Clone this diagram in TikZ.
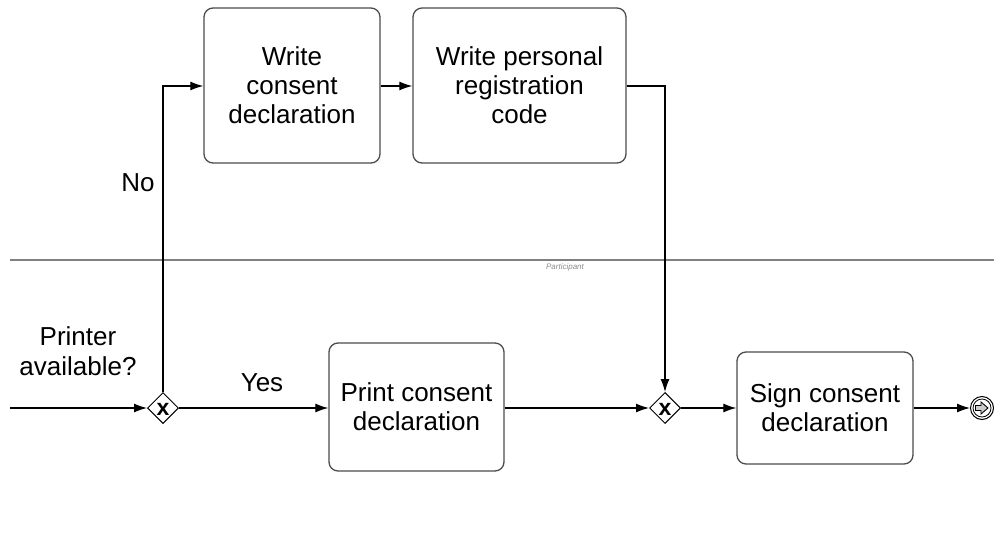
\documentclass[tikz,border=0pt]{standalone}
\usepackage{fontspec}
\setmainfont{Liberation Sans}
\usetikzlibrary{arrows.meta,shapes.geometric}
\tikzset{
  task/.style={draw=black!70, line width=1.3pt, rounded corners=9pt, inner sep=0pt,
    align=center, font=\fontsize{26}{29}\selectfont},
  gate/.style={draw=black, line width=1pt, diamond, minimum width=31pt, minimum height=31pt,
    inner sep=0pt, fill=white},
  flow/.style={draw=black, line width=1.2pt, -{Latex[length=13pt,width=9pt]}},
  lbl/.style={align=center, font=\fontsize{26}{30}\selectfont},
}
\begin{document}
\begin{tikzpicture}[x=1pt,y=-1pt]
\useasboundingbox (0,0) rectangle (994,544);

% lane separator and participant caption
\draw[black!50, line width=1.5pt] (10,260) -- (994,260);
\node[font=\fontsize{8}{9}\selectfont\itshape, text=black!45] (part) at (565,267) {Participant};

% tasks
\node[task, minimum width=176pt, minimum height=155pt] (write) at (292,85.5) {Write\\consent\\declaration};
\node[task, minimum width=213pt, minimum height=155pt] (code) at (519.5,85.5) {Write personal\\registration\\code};
\node[task, minimum width=175pt, minimum height=128pt] (print) at (416.5,407) {Print consent\\declaration};
\node[task, minimum width=176pt, minimum height=112pt] (sign) at (825,408) {Sign consent\\declaration};

% gateways
\node[gate] (g1) at (163,408) {};
\node[gate] (g2) at (665,408) {};
\foreach \g in {g1,g2}{
  \node[font=\fontsize{23}{23}\selectfont\bfseries, inner sep=0pt] at ([yshift=-1pt]\g) {x};
}

% end event with throw arrow marker
\node[circle, draw=black, line width=1pt, minimum size=23pt, inner sep=0pt] (end) at (982,408) {};
\draw[black, line width=0.8pt] (end) circle (9pt);
\draw[black, line width=0.9pt, fill=black!20]
  (975.5,405.5) -- (981,405.5) -- (981,402) -- (988,408) -- (981,414) -- (981,410.5) -- (975.5,410.5) -- cycle;

% incoming flow
\coordinate (start) at (10,408);
\draw[flow] (start) -- (g1);

% flows
\draw[flow] (g1.north) |- (write.west |- 0,86);
\draw[flow] (write.east |- 0,86) -- (code.west |- 0,86);
\draw[flow] (code.east |- 0,86) -| (g2.north);
\draw[flow] (g1.east) -- (print.west |- g1);
\draw[flow] (print.east |- g2) -- (g2.west);
\draw[flow] (g2.east) -- (sign.west |- g2);
\draw[flow] (sign.east |- end) -- (end.west);

% labels
\node[lbl] (no) at (138,183) {No};
\node[lbl] (printer) at (78,351) {Printer\\available?};
\node[lbl] (yes) at (262,383) {Yes};
\end{tikzpicture}
\end{document}
